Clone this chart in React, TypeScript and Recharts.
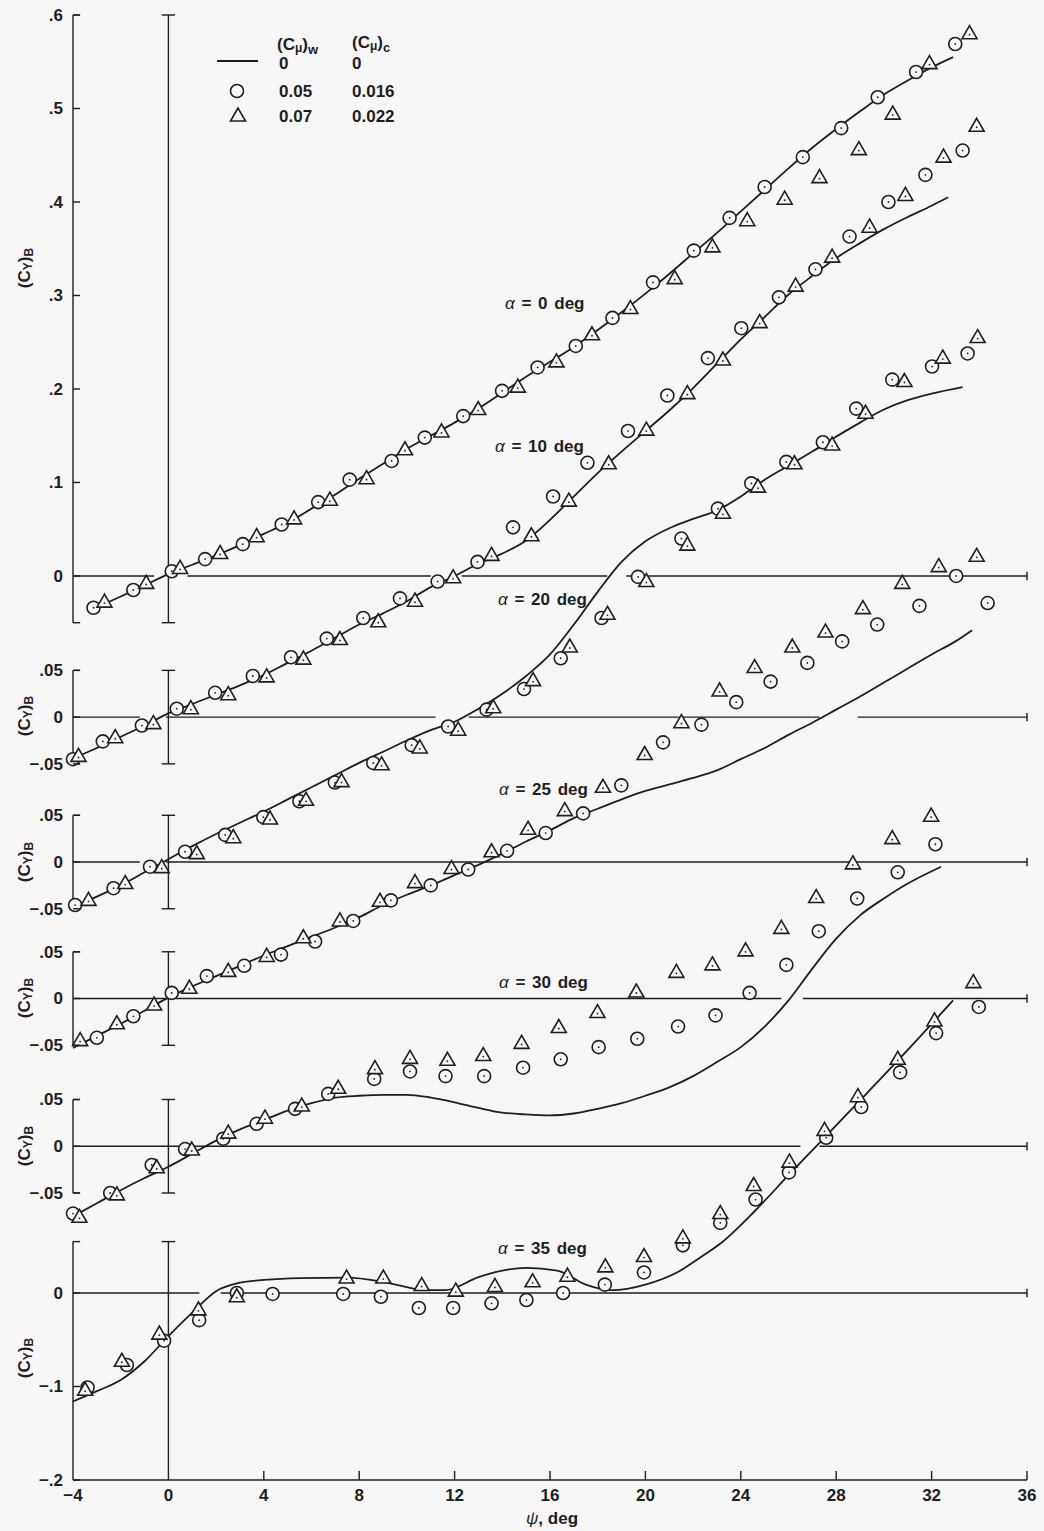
import React from 'react';
import { ComposedChart, Line, Scatter, XAxis, YAxis, ReferenceLine } from 'recharts';

type Pt = [number, number];

const W = 1044;
const H = 1531;
const INK = '#1e1e1e';
const PAPER = '#f6f6f6';
const FONT = '"Liberation Sans", Arial, Helvetica, sans-serif';
const WEIGHT = 'bold';

// ψ, deg
const X_TICKS = [-4, 0, 4, 8, 12, 16, 20, 24, 28, 32, 36];

// tick labels of the stacked (Cy)B axes
const TOP_TICKS = [0.6, 0.5, 0.4, 0.3, 0.2, 0.1, 0];
const TOP_TICK_LABELS = ['.6', '.5', '.4', '.3', '.2', '.1', '0'];
const MID_TICKS = [0.05, 0, -0.05];
const MID_TICK_LABELS = ['.05', '0', '\u2212.05'];
const LOW_TICKS = [0, -0.1, -0.2];
const LOW_TICK_LABELS = ['0', '\u2212.1', '\u2212.2'];

// α = 0 deg   [ψ, (Cy)B]
const CURVE_A0: Pt[] = [[-3.3, -0.037], [-2, -0.022], [-1, -0.01], [0, 0.002], [1, 0.012], [2, 0.022], [3, 0.033], [4, 0.045], [5, 0.057], [6, 0.072], [7, 0.087], [8, 0.104], [9, 0.12], [10, 0.136], [11, 0.15], [12, 0.164], [13, 0.179], [14, 0.196], [15, 0.213], [16, 0.229], [17, 0.245], [18, 0.263], [19, 0.282], [20, 0.302], [21, 0.323], [22, 0.345], [23, 0.367], [24, 0.39], [25, 0.413], [26, 0.436], [27, 0.458], [28, 0.478], [29, 0.497], [30, 0.515], [31, 0.53], [32, 0.544], [32.9, 0.555]];
const CIRC_A0: Pt[] = [[-3.14, -0.034], [-1.47, -0.015], [0.14, 0.005], [1.54, 0.018], [3.12, 0.034], [4.75, 0.055], [6.28, 0.079], [7.6, 0.103], [9.36, 0.123], [10.75, 0.148], [12.36, 0.171], [13.99, 0.198], [15.48, 0.223], [17.08, 0.246], [18.62, 0.276], [20.32, 0.314], [22.03, 0.348], [23.53, 0.383], [25.0, 0.416], [26.6, 0.448], [28.21, 0.479], [29.74, 0.512], [31.35, 0.539], [32.99, 0.569]];
const TRI_A0: Pt[] = [[-2.68, -0.028], [-0.93, -0.008], [0.49, 0.008], [2.17, 0.024], [3.7, 0.042], [5.27, 0.061], [6.77, 0.081], [8.31, 0.104], [9.92, 0.135], [11.45, 0.154], [12.99, 0.178], [14.65, 0.202], [16.27, 0.229], [17.76, 0.258], [19.37, 0.286], [21.23, 0.318], [22.81, 0.352], [24.27, 0.38], [25.84, 0.403], [27.3, 0.426], [28.95, 0.456], [30.37, 0.494], [31.91, 0.548], [33.59, 0.58]];

// α = 10 deg
const CURVE_A10: Pt[] = [[-4, -0.044], [-3, -0.033], [-2, -0.021], [-1, -0.009], [0, 0.004], [1, 0.014], [2, 0.024], [3, 0.034], [4, 0.045], [5, 0.058], [6, 0.071], [7, 0.085], [8, 0.099], [9, 0.111], [10, 0.124], [11, 0.139], [12, 0.151], [13, 0.164], [14, 0.175], [15, 0.189], [16, 0.211], [17, 0.236], [18, 0.261], [19, 0.284], [20, 0.306], [21, 0.328], [22, 0.352], [23, 0.378], [24, 0.404], [25, 0.428], [26, 0.452], [27, 0.472], [28, 0.491], [29, 0.507], [30, 0.522], [31, 0.535], [32, 0.547], [32.7, 0.556]];
const CIRC_A10: Pt[] = [[-4, -0.045], [-2.75, -0.026], [-1.11, -0.009], [0.35, 0.009], [1.96, 0.026], [3.54, 0.044], [5.14, 0.064], [6.64, 0.084], [8.17, 0.106], [9.71, 0.127], [11.29, 0.145], [12.96, 0.166], [14.45, 0.203], [16.13, 0.236], [17.57, 0.272], [19.27, 0.306], [20.92, 0.344], [22.62, 0.384], [24.02, 0.416], [25.6, 0.449], [27.13, 0.479], [28.56, 0.514], [30.19, 0.551], [31.74, 0.58], [33.3, 0.606]];
const TRI_A10: Pt[] = [[-3.77, -0.042], [-2.23, -0.022], [-0.63, -0.007], [0.94, 0.009], [2.51, 0.024], [4.12, 0.043], [5.66, 0.062], [7.19, 0.083], [8.8, 0.102], [10.34, 0.124], [11.94, 0.149], [13.55, 0.173], [15.22, 0.194], [16.79, 0.231], [18.46, 0.271], [20.04, 0.307], [21.76, 0.346], [23.25, 0.382], [24.79, 0.422], [26.3, 0.461], [27.83, 0.492], [29.4, 0.524], [30.9, 0.558], [32.5, 0.599], [33.89, 0.632]];

// α = 20 deg
const CURVE_A20: Pt[] = [[-4, -0.048], [-3, -0.037], [-2, -0.025], [-1, -0.011], [0, 0.003], [1, 0.017], [2, 0.03], [3, 0.042], [4, 0.054], [5, 0.067], [6, 0.08], [7, 0.093], [8, 0.106], [9, 0.118], [10, 0.13], [11, 0.141], [12, 0.15], [13, 0.164], [14, 0.18], [15, 0.199], [16, 0.222], [17, 0.254], [18, 0.289], [19, 0.321], [20, 0.343], [21, 0.357], [22, 0.367], [23, 0.376], [24, 0.391], [25, 0.409], [26, 0.424], [27, 0.439], [28, 0.455], [29, 0.47], [30, 0.484], [31, 0.494], [32, 0.501], [33.3, 0.508]];
const CIRC_A20: Pt[] = [[-3.91, -0.046], [-2.3, -0.028], [-0.77, -0.005], [0.7, 0.011], [2.38, 0.029], [3.98, 0.048], [5.49, 0.065], [6.98, 0.085], [8.59, 0.106], [10.2, 0.125], [11.73, 0.145], [13.34, 0.163], [14.91, 0.185], [16.45, 0.218], [18.16, 0.261], [19.69, 0.305], [21.51, 0.346], [23.04, 0.378], [24.44, 0.405], [25.91, 0.428], [27.44, 0.449], [28.84, 0.485], [30.35, 0.516], [32.02, 0.53], [33.51, 0.544]];
const TRI_A20: Pt[] = [[-3.35, -0.041], [-1.81, -0.023], [-0.28, -0.006], [1.19, 0.009], [2.72, 0.026], [4.26, 0.046], [5.77, 0.066], [7.26, 0.086], [8.94, 0.104], [10.54, 0.122], [12.15, 0.141], [13.62, 0.165], [15.29, 0.194], [16.83, 0.23], [18.41, 0.265], [20.04, 0.3], [21.76, 0.339], [23.25, 0.373], [24.72, 0.401], [26.25, 0.426], [27.83, 0.446], [29.23, 0.48], [30.86, 0.514], [32.47, 0.539], [33.93, 0.561]];

// α = 25 deg
const CURVE_A25: Pt[] = [[-4, -0.053], [-3, -0.04], [-2, -0.027], [-1, -0.013], [0, 0.001], [1, 0.013], [2, 0.024], [3, 0.035], [4, 0.046], [5, 0.056], [6, 0.066], [7, 0.076], [8, 0.087], [9, 0.1], [10, 0.111], [11, 0.121], [12, 0.132], [13, 0.143], [14, 0.155], [15, 0.168], [16, 0.18], [17, 0.193], [18, 0.203], [19, 0.213], [20, 0.222], [21, 0.229], [22, 0.236], [23, 0.244], [24, 0.256], [25, 0.268], [26, 0.282], [27, 0.295], [28, 0.309], [29, 0.323], [30, 0.338], [31, 0.353], [32, 0.368], [33, 0.382], [33.7, 0.394]];
const CIRC_A25: Pt[] = [[-3.0, -0.042], [-1.47, -0.019], [0.14, 0.006], [1.61, 0.024], [3.18, 0.035], [4.72, 0.047], [6.15, 0.061], [7.75, 0.083], [9.33, 0.105], [11.0, 0.121], [12.57, 0.138], [14.2, 0.158], [15.82, 0.177], [17.39, 0.198], [18.99, 0.228], [20.74, 0.274], [22.35, 0.293], [23.81, 0.317], [25.25, 0.339], [26.79, 0.359], [28.25, 0.382], [29.72, 0.4], [31.49, 0.42], [33.03, 0.452], [34.35, 0.423]];
const TRI_A25: Pt[] = [[-3.7, -0.045], [-2.16, -0.027], [-0.6, -0.007], [0.88, 0.011], [2.51, 0.029], [4.12, 0.045], [5.66, 0.065], [7.19, 0.083], [8.87, 0.104], [10.34, 0.124], [11.87, 0.139], [13.55, 0.157], [15.08, 0.181], [16.62, 0.201], [18.22, 0.226], [19.97, 0.261], [21.51, 0.295], [23.11, 0.329], [24.58, 0.354], [26.16, 0.376], [27.55, 0.392], [29.12, 0.417], [30.77, 0.444], [32.3, 0.462], [33.89, 0.473]];

// α = 30 deg
const CURVE_A30: Pt[] = [[-4, -0.075], [-3, -0.061], [-2, -0.047], [-1, -0.034], [0, -0.022], [1, -0.008], [2, 0.006], [3, 0.018], [4, 0.028], [5, 0.038], [6, 0.046], [7, 0.052], [8, 0.054], [9, 0.055], [10, 0.055], [11, 0.052], [12, 0.047], [13, 0.041], [14, 0.036], [15, 0.034], [16, 0.033], [17, 0.035], [18, 0.04], [19, 0.046], [20, 0.054], [21, 0.063], [22, 0.075], [23, 0.09], [24, 0.106], [25, 0.128], [26, 0.156], [27, 0.19], [28, 0.222], [29, 0.247], [30, 0.265], [31, 0.281], [32.4, 0.299]];
const CIRC_A30: Pt[] = [[-4, -0.072], [-2.44, -0.05], [-0.7, -0.02], [0.7, -0.003], [2.3, 0.008], [3.7, 0.024], [5.31, 0.04], [6.7, 0.056], [8.63, 0.072], [10.13, 0.08], [11.62, 0.075], [13.24, 0.075], [14.87, 0.084], [16.45, 0.093], [18.04, 0.106], [19.66, 0.115], [21.37, 0.128], [22.94, 0.14], [24.37, 0.164], [25.91, 0.194], [27.27, 0.23], [28.88, 0.265], [30.58, 0.293], [32.16, 0.323]];
const TRI_A30: Pt[] = [[-3.73, -0.076], [-2.16, -0.052], [-0.49, -0.023], [0.98, -0.004], [2.51, 0.014], [4.05, 0.03], [5.59, 0.043], [7.12, 0.062], [8.66, 0.083], [10.13, 0.094], [11.7, 0.092], [13.2, 0.097], [14.81, 0.11], [16.37, 0.127], [17.99, 0.143], [19.62, 0.165], [21.3, 0.186], [22.81, 0.194], [24.2, 0.209], [25.7, 0.233], [27.16, 0.266], [28.7, 0.302], [30.35, 0.329], [31.98, 0.353]];

// α = 35 deg
const CURVE_A35: Pt[] = [[-4, -0.116], [-3, -0.105], [-2, -0.093], [-1, -0.073], [0, -0.046], [1, -0.021], [2, 0.002], [3, 0.011], [4, 0.014], [5.5, 0.016], [7.5, 0.0165], [9, 0.012], [10.5, 0.004], [11.6, 0.003], [13, 0.017], [14, 0.024], [15, 0.027], [16.3, 0.024], [17.5, 0.009], [18.6, 0.003], [20, 0.009], [21.4, 0.023], [22.3, 0.038], [23.2, 0.054], [24.6, 0.088], [26, 0.126], [27.2, 0.158], [29, 0.206], [31, 0.26], [32.9, 0.313]];
const CIRC_A35: Pt[] = [[-3.39, -0.101], [-1.74, -0.077], [-0.18, -0.051], [1.29, -0.029], [2.87, 0.0], [4.37, -0.001], [7.33, -0.001], [8.91, -0.004], [10.5, -0.016], [11.94, -0.016], [13.55, -0.011], [15.01, -0.0075], [16.55, 0.0], [18.3, 0.009], [19.94, 0.022], [21.57, 0.051], [23.14, 0.075], [24.62, 0.1], [26.02, 0.129], [27.58, 0.166], [29.05, 0.199], [30.68, 0.236], [32.19, 0.278], [33.98, 0.306]];
const TRI_A35: Pt[] = [[-3.49, -0.104], [-1.95, -0.073], [-0.38, -0.044], [1.26, -0.018], [2.87, -0.004], [7.47, 0.016], [9.01, 0.016], [10.62, 0.008], [12.05, 0.002], [13.69, 0.007], [15.27, 0.012], [16.73, 0.018], [18.32, 0.028], [19.94, 0.039], [21.57, 0.059], [23.14, 0.085], [24.54, 0.115], [26.04, 0.14], [27.51, 0.174], [28.91, 0.21], [30.58, 0.25], [32.12, 0.291], [33.75, 0.332]];

// breaks left in each zero line where a curve crosses it (ψ from, ψ to)
const GAPS_A0: Pt[] = [[-0.6, 0.8], [11.0, 12.3], [18.4, 19.2]];
const GAPS_A10: Pt[] = [[-1.2, -0.1], [11.2, 12.6], [27.3, 28.9]];
const GAPS_A20: Pt[] = [[-1.2, -0.1]];
const GAPS_A25: Pt[] = [[25.7, 26.6]];
const GAPS_A30: Pt[] = [[26.5, 27.3]];
const GAPS_A35: Pt[] = [[1.3, 2.2]];

// every panel shares one y axis; "zero" is where that panel's 0 sits on it
const Y_MIN = -0.967;
const Y_MAX = 0.6;
const PANELS = [
  { id: 'a0', zero: 0, span: [0.6, -0.05], closed: true, ticks: TOP_TICKS, tickLabels: TOP_TICK_LABELS, curve: CURVE_A0, circles: CIRC_A0, triangles: TRI_A0, gaps: GAPS_A0 },
  { id: 'a10', zero: -0.151, span: [0.05, -0.05], closed: true, ticks: MID_TICKS, tickLabels: MID_TICK_LABELS, curve: CURVE_A10, circles: CIRC_A10, triangles: TRI_A10, gaps: GAPS_A10 },
  { id: 'a20', zero: -0.306, span: [0.05, -0.05], closed: true, ticks: MID_TICKS, tickLabels: MID_TICK_LABELS, curve: CURVE_A20, circles: CIRC_A20, triangles: TRI_A20, gaps: GAPS_A20 },
  { id: 'a25', zero: -0.452, span: [0.05, -0.05], closed: true, ticks: MID_TICKS, tickLabels: MID_TICK_LABELS, curve: CURVE_A25, circles: CIRC_A25, triangles: TRI_A25, gaps: GAPS_A25 },
  { id: 'a30', zero: -0.61, span: [0.05, -0.05], closed: true, ticks: MID_TICKS, tickLabels: MID_TICK_LABELS, curve: CURVE_A30, circles: CIRC_A30, triangles: TRI_A30, gaps: GAPS_A30 },
  { id: 'a35', zero: -0.767, span: [0.055, -0.2], closed: false, ticks: LOW_TICKS, tickLabels: LOW_TICK_LABELS, curve: CURVE_A35, circles: CIRC_A35, triangles: TRI_A35, gaps: GAPS_A35 },
];

const key4 = (v: number) => v.toFixed(4);
const Y_TICK_VALUES: number[] = [];
const Y_TICK_TEXT = new Map<string, string>();
PANELS.forEach((p) =>
  p.ticks.forEach((t, i) => {
    const v = Math.round((p.zero + t) * 10000) / 10000;
    Y_TICK_VALUES.push(v);
    Y_TICK_TEXT.set(key4(v), p.tickLabels[i]);
  })
);

// frame pieces: left brackets, ψ = 0 brackets, zero lines (with breaks) and their end caps
type Seg = [number, number, number, number];
const SEGMENTS: Seg[] = [];
PANELS.forEach((p) => {
  const top = p.zero + p.span[0];
  const bot = p.zero + p.span[1];
  SEGMENTS.push([-4, top, -4, bot], [-4, top, -3.7, top]);
  SEGMENTS.push([0, top, 0, bot], [-0.28, top, 0.28, top]);
  if (p.closed) SEGMENTS.push([-4, bot, -3.7, bot], [-0.28, bot, 0.28, bot]);
  let from = -4;
  p.gaps.forEach(([a, b]) => {
    SEGMENTS.push([from, p.zero, a, p.zero]);
    from = b;
  });
  SEGMENTS.push([from, p.zero, 36, p.zero]);
  SEGMENTS.push([36, p.zero + 0.0045, 36, p.zero - 0.0045]);
});

const toRows = (pts: Pt[], zero: number) => pts.map(([x, v]) => ({ x, y: zero + v }));

const CircleMark = (props: any) => {
  const { cx, cy } = props;
  if (cx == null || cy == null) return null;
  return (
    <g>
      <circle cx={cx} cy={cy} r={6.5} fill={PAPER} stroke={INK} strokeWidth={1.6} />
      <circle cx={cx} cy={cy} r={0.9} fill={INK} />
    </g>
  );
};

const TriangleMark = (props: any) => {
  const { cx, cy } = props;
  if (cx == null || cy == null) return null;
  return (
    <g>
      <polygon
        points={`${cx},${cy - 8} ${cx - 7.5},${cy + 5} ${cx + 7.5},${cy + 5}`}
        fill={PAPER}
        stroke={INK}
        strokeWidth={1.6}
      />
      <circle cx={cx} cy={cy + 1} r={0.9} fill={INK} />
    </g>
  );
};

const YTick = (props: any) => {
  const { x, y, payload } = props;
  const label = Y_TICK_TEXT.get(key4(payload.value)) ?? '';
  return (
    <g>
      <line x1={x + 6} x2={x + 13} y1={y} y2={y} stroke={INK} strokeWidth={1.4} />
      <text x={x - 4} y={y} dy="0.35em" textAnchor="end" fontSize={17} fontWeight={WEIGHT} fill={INK} fontFamily={FONT}>
        {label}
      </text>
    </g>
  );
};

const XTick = (props: any) => {
  const { x, y, payload } = props;
  const v = payload.value;
  return (
    <g>
      {v > -4 && v !== 0 && <line x1={x} x2={x} y1={y - 8} y2={y - 17} stroke={INK} strokeWidth={1.4} />}
      <text x={x} y={y} dy="0.75em" textAnchor="middle" fontSize={17} fontWeight={WEIGHT} fill={INK} fontFamily={FONT}>
        {v < 0 ? `\u2212${Math.abs(v)}` : v}
      </text>
    </g>
  );
};

// annotations (positions in page pixels)
const ALPHA_LABELS = [
  { text: '0', x: 505, y: 303 },
  { text: '10', x: 495, y: 446 },
  { text: '20', x: 498, y: 599 },
  { text: '25', x: 499, y: 789 },
  { text: '30', x: 499, y: 982 },
  { text: '35', x: 498, y: 1248 },
];
const Y_TITLES = [268, 716, 862, 998, 1146, 1358];

const CyTitle = ({ y }: { y: number }) => (
  <text x={24} y={y} transform={`rotate(-90 24 ${y})`} textAnchor="middle" dominantBaseline="central" fontSize={17} fontWeight={WEIGHT} fill={INK}>
    (C<tspan fontSize={12} dy={4}>Y</tspan>
    <tspan dy={-4}>)</tspan>
    <tspan fontSize={12} dy={5}>B</tspan>
  </text>
);

export default function App() {
  return (
    <div style={{ position: 'absolute', left: 0, top: 0, width: W, height: H, background: PAPER, fontFamily: FONT }}>
      <ComposedChart width={W} height={H} margin={{ top: 15, right: 17, bottom: 21, left: 13 }}>
        <XAxis
          type="number"
          dataKey="x"
          domain={[-4, 36]}
          ticks={X_TICKS}
          interval={0}
          height={30}
          tickSize={0}
          tickMargin={8}
          tick={(p: any) => <XTick {...p} />}
          axisLine={{ stroke: INK, strokeWidth: 1.4 }}
        />
        <YAxis
          type="number"
          dataKey="y"
          domain={[Y_MIN, Y_MAX]}
          ticks={Y_TICK_VALUES}
          interval={0}
          width={60}
          axisLine={false}
          tickSize={0}
          tickMargin={6}
          tick={(p: any) => <YTick {...p} />}
        />
        {SEGMENTS.map((s, i) => (
          <ReferenceLine
            key={`seg-${i}`}
            segment={[{ x: s[0], y: s[1] }, { x: s[2], y: s[3] }]}
            stroke={INK}
            strokeWidth={1.4}
            ifOverflow="visible"
          />
        ))}
        {PANELS.map((p) => (
          <Line
            key={`curve-${p.id}`}
            data={toRows(p.curve, p.zero)}
            dataKey="y"
            type="monotone"
            dot={false}
            activeDot={false}
            stroke={INK}
            strokeWidth={1.8}
            isAnimationActive={false}
          />
        ))}
        {PANELS.map((p) => (
          <Scatter key={`circ-${p.id}`} data={toRows(p.circles, p.zero)} shape={CircleMark} isAnimationActive={false} />
        ))}
        {PANELS.map((p) => (
          <Scatter key={`tri-${p.id}`} data={toRows(p.triangles, p.zero)} shape={TriangleMark} isAnimationActive={false} />
        ))}
      </ComposedChart>

      <svg width={W} height={H} style={{ position: 'absolute', left: 0, top: 0, pointerEvents: 'none' }} fontFamily={FONT} fontWeight={WEIGHT}>
        {/* legend */}
        <text x={277} y={44} fontSize={17} fill={INK} dominantBaseline="central">
          (C<tspan fontSize={12} dy={4}>{'\u03bc'}</tspan>
          <tspan dy={-4}>)</tspan>
          <tspan fontSize={13} dy={5}>w</tspan>
        </text>
        <text x={352} y={42} fontSize={17} fill={INK} dominantBaseline="central">
          (C<tspan fontSize={12} dy={4}>{'\u03bc'}</tspan>
          <tspan dy={-4}>)</tspan>
          <tspan fontSize={13} dy={5}>c</tspan>
        </text>
        <line x1={217} x2={258} y1={61} y2={61} stroke={INK} strokeWidth={1.8} />
        <circle cx={237} cy={91} r={6.5} fill="none" stroke={INK} strokeWidth={1.6} />
        <polygon points="238,108 230.5,121 245.5,121" fill="none" stroke={INK} strokeWidth={1.6} />
        {[
          ['0', '0', 63],
          ['0.05', '0.016', 91],
          ['0.07', '0.022', 116],
        ].map(([a, b, y]) => (
          <g key={String(y)}>
            <text x={279} y={y as number} fontSize={17} fill={INK} dominantBaseline="central">{a}</text>
            <text x={352} y={y as number} fontSize={17} fill={INK} dominantBaseline="central">{b}</text>
          </g>
        ))}

        {ALPHA_LABELS.map((a) => (
          <text key={a.text} x={a.x} y={a.y} fontSize={17} fill={INK} dominantBaseline="central" wordSpacing={2}>
            <tspan fontStyle="italic" fontWeight="normal">{'\u03b1'}</tspan> = {a.text} deg
          </text>
        ))}

        {Y_TITLES.map((y) => (
          <CyTitle key={y} y={y} />
        ))}

        <text x={552} y={1518} fontSize={17} fill={INK} textAnchor="middle" dominantBaseline="central">
          <tspan fontStyle="italic" fontWeight="normal">{'\u03c8'}</tspan>, deg
        </text>
      </svg>
    </div>
  );
}
